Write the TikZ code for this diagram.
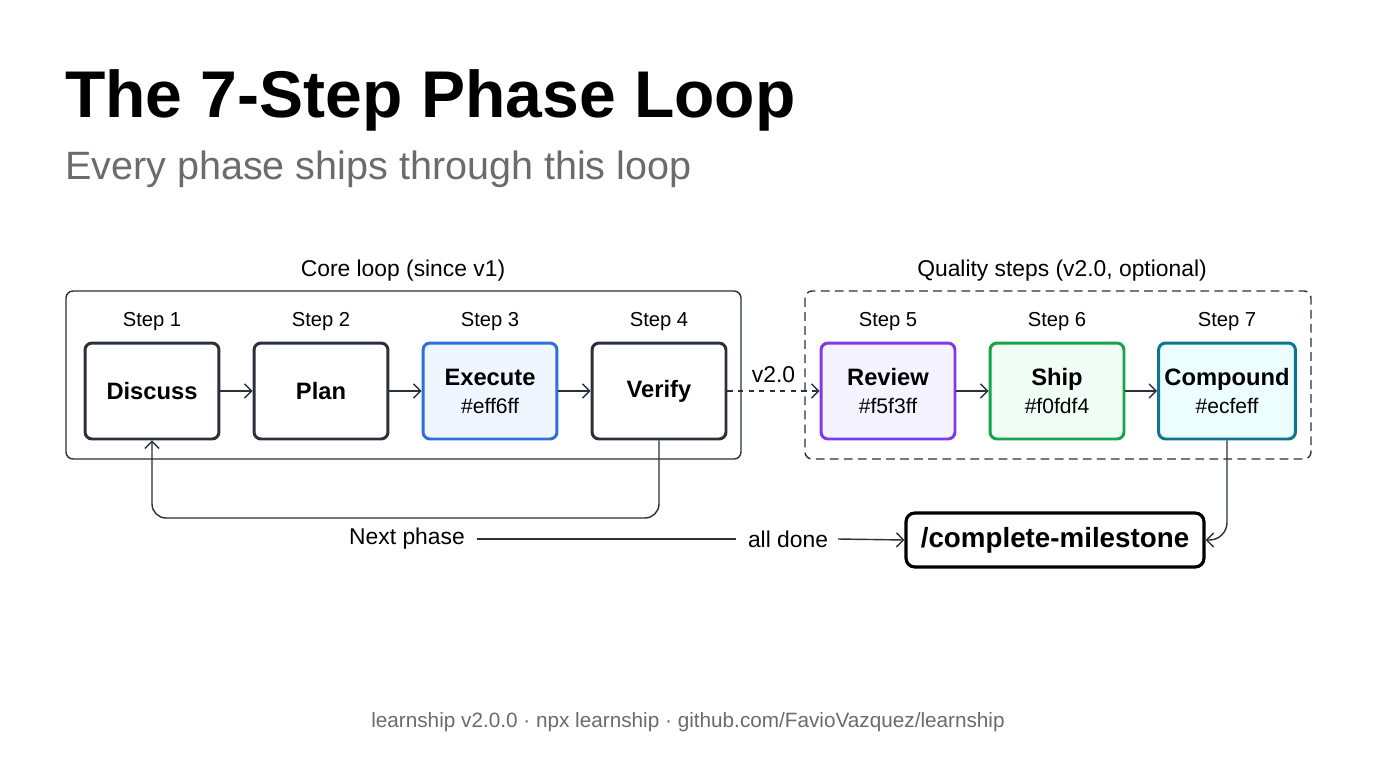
\documentclass[tikz,border=0pt]{standalone}
\usepackage{fontspec}
\setmainfont{Liberation Sans}
\usepackage{tikz}
\usetikzlibrary{calc}
\usetikzlibrary{positioning}
\usetikzlibrary{arrows.meta}

\definecolor{ink}{HTML}{2A313C}
\definecolor{muted}{HTML}{6B6B6B}
\definecolor{exeline}{HTML}{2F6FDB}
\definecolor{exefill}{HTML}{EFF6FF}
\definecolor{revline}{HTML}{7C3AED}
\definecolor{revfill}{HTML}{F5F3FF}
\definecolor{shipline}{HTML}{16A34A}
\definecolor{shipfill}{HTML}{F0FDF4}
\definecolor{cmpline}{HTML}{0E7490}
\definecolor{cmpfill}{HTML}{ECFEFF}

\newcommand{\hexcode}[1]{{\fontsize{12}{14}\selectfont\mdseries #1}}

\tikzset{
  phasebox/.style={draw=ink,line width=1.7pt,rounded corners=4pt,fill=white,
    minimum width=2.68cm,minimum height=1.92cm,align=center,
    font=\fontsize{13.5}{17}\selectfont\bfseries},
  steplabel/.style={font=\fontsize{11.5}{13}\selectfont,text=black},
  biglabel/.style={font=\fontsize{13}{15}\selectfont,text=black},
  link/.style={draw=ink,line width=0.8pt,-{Straight Barb[length=4pt,width=8pt]}},
  group/.style={draw=ink,line width=0.8pt,rounded corners=4pt},
}

\begin{document}
\begin{tikzpicture}[x=0.02cm,y=-0.02cm]
    \useasboundingbox (0,0) rectangle (1376,768);

    \node [anchor=west,font=\fontsize{37.6}{40}\selectfont\bfseries] (title) at (59,100) {The 7-Step Phase Loop};
    \node [anchor=west,font=\fontsize{22.5}{26}\selectfont,text=muted] (subtitle) at (59,169) {Every phase ships through this loop};

    % groups
    \draw [group] (66,291) rectangle (741,459);
    \draw [group,dashed,dash pattern=on 5pt off 3pt] (805,291) rectangle (1311,459);
    \node [biglabel] (corelbl) at (403,271) {Core loop (since v1)};
    \node [biglabel] (qualitylbl) at (1062,271) {Quality steps (v2.0, optional)};

    % steps
    \node [phasebox] (discuss) at (152,391) {Discuss};
    \node [phasebox] (plan) at (321,391) {Plan};
    \node [phasebox,draw=exeline,fill=exefill] (execute) at (490,391) {Execute\\[-1pt]\hexcode{\#eff6ff}};
    \node [phasebox] (verify) at (659,391) {Verify};
    \node [phasebox,draw=revline,fill=revfill] (review) at (888,391) {Review\\[-1pt]\hexcode{\#f5f3ff}};
    \node [phasebox,draw=shipline,fill=shipfill] (ship) at (1057,391) {Ship\\[-1pt]\hexcode{\#f0fdf4}};
    \node [phasebox,draw=cmpline,fill=cmpfill] (compound) at (1227,391) {Compound\\[-1pt]\hexcode{\#ecfeff}};

    \foreach \n/\k in {discuss/1,plan/2,execute/3,verify/4,review/5,ship/6,compound/7}
      \node [steplabel] (lbl\k) at ($(\n.north)+(0,-20)$) {Step \k};

    \draw [link] (discuss) -- (plan);
    \draw [link] (plan) -- (execute);
    \draw [link] (execute) -- (verify);
    \draw [link,dashed] (verify) -- node[above=1pt,biglabel] (v2) {v2.0} (review);
    \draw [link] (review) -- (ship);
    \draw [link] (ship) -- (compound);

    % loop back and exit
    \draw [link,rounded corners=8pt] (verify.south) |- (400,518) -| (discuss.south);

    \node [draw=black,line width=1.8pt,rounded corners=5pt,minimum width=5.96cm,minimum height=1.08cm,
      font=\fontsize{15.8}{18}\selectfont\bfseries] (milestone) at (1055,540) {/complete-milestone};
    \node [biglabel] (nextlbl) at (407,539) {Next phase};
    \node [biglabel] (donelbl) at (788,539) {all done};
    \draw [draw=ink,line width=0.8pt] ($(nextlbl.east)+(6,0)$) -- ($(donelbl.west)+(-6,0)$);
    \draw [link] ($(donelbl.east)+(4,0)$) -- (milestone.west);
    \draw [link,rounded corners=10pt] (compound.south) |- (milestone.east);

    \node [font=\fontsize{11.8}{14}\selectfont,text=muted] (footer) at (688,722) {learnship v2.0.0 · npx learnship · github.com/FavioVazquez/learnship};
\end{tikzpicture}
\end{document}
